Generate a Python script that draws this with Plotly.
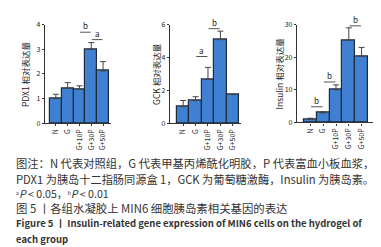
import plotly.graph_objects as go

categories = ["N", "G", "G+10P", "G+30P", "G+50P"]

pdx1_values = [1.0, 1.42, 1.38, 3.0, 2.12]
pdx1_err = [0.18, 0.23, 0.14, 0.27, 0.38]

gck_values = [1.01, 1.38, 2.68, 5.08, 1.75]
gck_err = [0.38, 0.24, 0.72, 0.52, 0.0]

insulin_values = [1.0, 2.9, 10.0, 25.2, 20.3]
insulin_err = [0.3, 0.3, 1.5, 3.8, 2.7]

pdx1_ticks = [0, 1, 2, 3, 4]
gck_ticks = [0, 2, 4, 6]
insulin_ticks = [0, 10, 20, 30]

# significance brackets: (from index, to index, height, label)
pdx1_sig = [(2, 3, 3.69, "b"), (3, 4, 3.39, "a")]
gck_sig = [(1, 2, 4.06, "a"), (2, 3, 5.75, "b")]
insulin_sig = [(0, 1, 4.8, "b"), (1, 2, 12.4, "b"), (3, 4, 29.6, "b")]

titles = ["PDX1 相对表达量", "GCK 相对表达量", "Insulin 相对表达量"]

caption_lines = [
    "图注：N 代表对照组，G 代表甲基丙烯酰化明胶，P 代表富血小板血浆，",
    "PDX1 为胰岛十二指肠同源盒 1，GCK 为葡萄糖激酶，Insulin 为胰岛素。",
    "ᵃ<i>P</i> < 0.05，ᵇ<i>P</i> < 0.01",
    "图 5 丨各组水凝胶上 MIN6 细胞胰岛素相关基因的表达",
    "<b>Figure 5 丨 Insulin-related gene expression of MIN6 cells on the hydrogel of</b>",
    "<b>each group</b>",
]

W, H = 381, 247
FONT = "Noto Sans CJK SC"
BAR = "#3f80d2"
EDGE = "#1e2a38"
AX = "#333333"

panels = [
    dict(vals=pdx1_values, err=pdx1_err, ticks=pdx1_ticks, yr=[0, 4], sig=pdx1_sig,
         xpx=(37, 103), xr=[-0.92, 4.67], ypx=(11, 114), titlex=17),
    dict(vals=gck_values, err=gck_err, ticks=gck_ticks, yr=[0, 6], sig=gck_sig,
         xpx=(162, 233), xr=[-1.06, 4.66], ypx=(11, 114), titlex=148),
    dict(vals=insulin_values, err=insulin_err, ticks=insulin_ticks, yr=[0, 30], sig=insulin_sig,
         xpx=(289, 367), xr=[-1.05, 5.05], ypx=(11, 113), titlex=271),
]

fig = go.Figure()
shapes = []
annotations = []
xs = list(range(len(categories)))

for i, p in enumerate(panels):
    n = "" if i == 0 else str(i + 1)
    fig.add_trace(go.Bar(
        x=xs, y=p["vals"], width=1.0,
        marker=dict(color=BAR, line=dict(color=EDGE, width=1.2)),
        error_y=dict(type="data", array=p["err"], arrayminus=[0] * 5, symmetric=False,
                     color="#444444", thickness=1, width=3),
        xaxis="x" + n, yaxis="y" + n, showlegend=False,
    ))
    fig.layout["xaxis" + n] = dict(
        domain=[p["xpx"][0] / W, p["xpx"][1] / W], range=p["xr"], anchor="y" + n,
        tickvals=xs, ticktext=categories, tickangle=-90,
        showline=True, linecolor=AX, linewidth=1.2, ticks="outside", ticklen=2,
        tickcolor=AX, showgrid=False, zeroline=False,
        tickfont=dict(family=FONT, size=7, color="#222222"),
    )
    fig.layout["yaxis" + n] = dict(
        domain=[1 - p["ypx"][1] / H, 1 - p["ypx"][0] / H], range=p["yr"], anchor="x" + n,
        tickvals=p["ticks"], showline=True, linecolor=AX, linewidth=1.2,
        ticks="outside", ticklen=2, tickcolor=AX, showgrid=False, zeroline=False,
        tickfont=dict(family=FONT, size=7, color="#222222"),
    )
    annotations.append(dict(
        text=titles[i], textangle=-90, xref="paper", yref="paper",
        x=p["titlex"] / W, y=1 - ((p["ypx"][0] + p["ypx"][1]) / 2) / H,
        showarrow=False, font=dict(family=FONT, size=8.5, color="#222222"),
        xanchor="center", yanchor="middle",
    ))
    for (a, b, h, lab) in p["sig"]:
        shapes.append(dict(type="line", xref="x" + n, yref="y" + n,
                           x0=a + 0.05, x1=b - 0.05, y0=h, y1=h,
                           line=dict(color="#555555", width=1)))
        annotations.append(dict(text=lab, xref="x" + n, yref="y" + n,
                                x=(a + b) / 2, y=h, yanchor="bottom", showarrow=False,
                                font=dict(family=FONT, size=8, color="#222222"), yshift=-1))

cap_y = [155, 172, 187, 202, 218, 234]
cap_size = [11.3, 11.2, 10.6, 11.4, 9.5, 9.5]
for t, yy, sz in zip(caption_lines, cap_y, cap_size):
    annotations.append(dict(text=t, xref="paper", yref="paper", x=6 / W, y=1 - yy / H,
                            xanchor="left", yanchor="middle", showarrow=False,
                            font=dict(family=FONT, size=sz, color="#333333")))

fig.update_layout(
    width=W, height=H, margin=dict(l=0, r=0, t=0, b=0),
    paper_bgcolor="white", plot_bgcolor="white",
    shapes=shapes, annotations=annotations, bargap=0,
)

fig.write_html("out.html")
